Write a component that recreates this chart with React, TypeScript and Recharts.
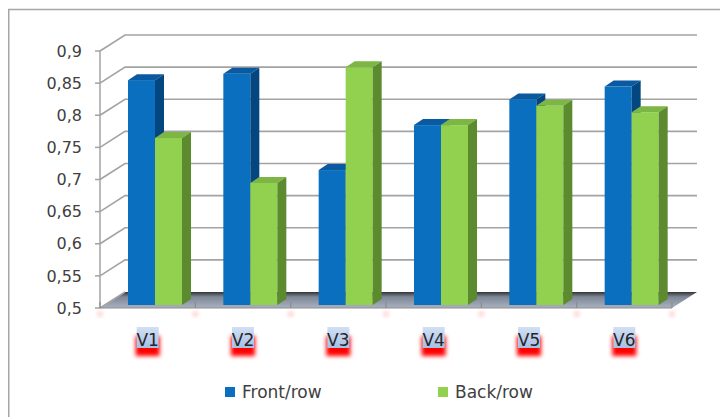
import React from 'react';
import { BarChart, Bar, XAxis, YAxis, CartesianGrid, Legend } from 'recharts';

const categories = ['V1', 'V2', 'V3', 'V4', 'V5', 'V6'];
const frontRow = [0.85, 0.86, 0.71, 0.78, 0.82, 0.84];
const backRow = [0.76, 0.69, 0.87, 0.78, 0.81, 0.8];
const yTicks = [0.5, 0.55, 0.6, 0.65, 0.7, 0.75, 0.8, 0.85, 0.9];

const data = categories.map((name, i) => ({ name, front: frontRow[i], back: backRow[i] }));

const W = 720;
const H = 409;
const MARGIN = { top: 43, right: 56, bottom: 13, left: 0 };
const Y_AXIS_W = 92;
const PLOT_W = W - MARGIN.right - MARGIN.left - Y_AXIS_W;

// depth of the back wall relative to the front plane
const WALL_DX = 25;
const WALL_DY = 16;
// bars stand a little behind the front plane
const BAR_OX = 7;
const BAR_OY = -3;
// bar thickness
const DX = 9;
const DY = 6;

const GRID = '#a3a3a3';
const FONT = '"DejaVu Sans", sans-serif';

const BLUE = { front: '#0a6fbf', top: '#0a5aa2', side: '#04467f' };
const GREEN = { front: '#92d050', top: '#7db644', side: '#5c8a2f' };

const fmt = (v: number) => String(v).replace('.', ',');

function Bar3D(props: any) {
  const { x, y, width, height, colors } = props;
  if (height == null || width == null) return null;
  const x0 = x + BAR_OX;
  const y0 = y + BAR_OY;
  const x1 = x0 + width;
  const y1 = y0 + height;
  return (
    <g>
      <rect x={x0} y={y0} width={width} height={height} fill={colors.front} />
      <polygon
        points={`${x0},${y0} ${x1},${y0} ${x1 + DX},${y0 - DY} ${x0 + DX},${y0 - DY}`}
        fill={colors.top}
      />
      <polygon
        points={`${x1},${y0} ${x1 + DX},${y0 - DY} ${x1 + DX},${y1 - DY} ${x1},${y1}`}
        fill={colors.side}
      />
    </g>
  );
}

// back wall gridline, side-wall diagonal, and the floor on the lowest level
function WallLine(p: any) {
  const { x1, y1, x2 } = p;
  const bottom = (p.y ?? MARGIN.top) + (p.height ?? 0);
  const isFloor = Math.abs(y1 - bottom) < 1;
  const bx1 = x1 + WALL_DX;
  const bx2 = x2 + WALL_DX;
  const by = y1 - WALL_DY;
  if (isFloor) {
    return (
      <g key={p.key}>
        <defs>
          <linearGradient id="floorFill" x1="0" y1="0" x2="0" y2="1">
            <stop offset="0" stopColor="#333333" />
            <stop offset="0.3" stopColor="#7d8696" />
            <stop offset="1" stopColor="#aab2c1" />
          </linearGradient>
          <linearGradient id="labelBox" x1="0" y1="0" x2="0" y2="1">
            <stop offset="0" stopColor="#d2e0f4" />
            <stop offset="1" stopColor="#a6bfe6" />
          </linearGradient>
          <filter id="glow" x="-50%" y="-50%" width="200%" height="200%">
            <feGaussianBlur stdDeviation="2" />
          </filter>
        </defs>
        <polygon
          points={`${x1},${y1} ${x2},${y1} ${bx2},${by} ${bx1},${by}`}
          fill="url(#floorFill)"
        />
        <line x1={x1} y1={y1} x2={bx1} y2={by} stroke={GRID} strokeWidth={1.5} />
      </g>
    );
  }
  return (
    <polyline
      key={p.key}
      points={`${x1},${y1} ${bx1},${by} ${bx2},${by}`}
      fill="none"
      stroke={GRID}
      strokeWidth={1.6}
    />
  );
}

function CategoryTick(p: any) {
  const { x, y, payload, index } = p;
  const half = payload?.offset || PLOT_W / categories.length / 2;
  const cx = payload?.coordinate ?? x;
  const marks = [cx - half];
  if (index === categories.length - 1) marks.push(cx + half);
  return (
    <g>
      {marks.map((bx) => (
        <g key={bx}>
          <line x1={bx} y1={y - 6} x2={bx} y2={y} stroke="#8c8c8c" strokeWidth={1.2} />
          <circle cx={bx} cy={y + 6} r={2.5} fill="#ff8080" opacity={0.5} filter="url(#glow)" />
        </g>
      ))}
      <rect x={cx - 12} y={y + 28} width={24} height={20} fill="#ff0000" filter="url(#glow)" />
      <rect x={cx - 11} y={y + 19} width={22} height={21} fill="url(#labelBox)" />
      <text
        x={cx}
        y={y + 38}
        textAnchor="middle"
        fontFamily={FONT}
        fontSize={17}
        fill="#262626"
      >
        {payload.value}
      </text>
    </g>
  );
}

function LegendBox() {
  const items = [
    { label: 'Front/row', color: BLUE.front, left: 217 },
    { label: 'Back/row', color: GREEN.front, left: 430 },
  ];
  return (
    <div style={{ position: 'relative', height: 24, width: '100%' }}>
      {items.map((it) => (
        <div
          key={it.label}
          style={{
            position: 'absolute',
            left: it.left,
            top: 0,
            height: 24,
            display: 'flex',
            alignItems: 'center',
            fontFamily: FONT,
            fontSize: 17,
            color: '#404040',
            whiteSpace: 'nowrap',
          }}
        >
          <span style={{ width: 10, height: 10, background: it.color, marginRight: 7 }} />
          {it.label}
        </div>
      ))}
    </div>
  );
}

export default function App() {
  return (
    <div style={{ position: 'relative', width: W, height: H }}>
      <BarChart width={W} height={H} data={data} margin={MARGIN} barGap={0} barSize={27}>
        <line x1={0} y1={1.5} x2={W} y2={1.5} stroke="#a6a6a6" strokeWidth={1.5} />
        <line x1={0.75} y1={1} x2={0.75} y2={H} stroke="#a6a6a6" strokeWidth={1.5} />
        <CartesianGrid vertical={false} horizontal={(p: any) => <WallLine {...p} />} />
        <XAxis
          dataKey="name"
          height={72}
          tickSize={0}
          tickMargin={0}
          tickLine={false}
          axisLine={{ stroke: '#8c8c8c', strokeWidth: 1.2 }}
          tick={(p: any) => <CategoryTick {...p} />}
          interval={0}
        />
        <YAxis
          type="number"
          domain={[0.5, 0.9]}
          ticks={yTicks}
          width={Y_AXIS_W}
          tickSize={5}
          tickMargin={13}
          tickFormatter={fmt}
          axisLine={{ stroke: GRID, strokeWidth: 1.5 }}
          tickLine={{ stroke: GRID, strokeWidth: 1.5 }}
          tick={{ fontFamily: FONT, fontSize: 16, fill: '#404040' }}
        />
        <Legend verticalAlign="bottom" height={24} content={() => <LegendBox />} />
        <Bar
          dataKey="front"
          name="Front/row"
          fill={BLUE.front}
          isAnimationActive={false}
          shape={(p: any) => <Bar3D {...p} colors={BLUE} />}
        />
        <Bar
          dataKey="back"
          name="Back/row"
          fill={GREEN.front}
          isAnimationActive={false}
          shape={(p: any) => <Bar3D {...p} colors={GREEN} />}
        />
      </BarChart>
    </div>
  );
}
